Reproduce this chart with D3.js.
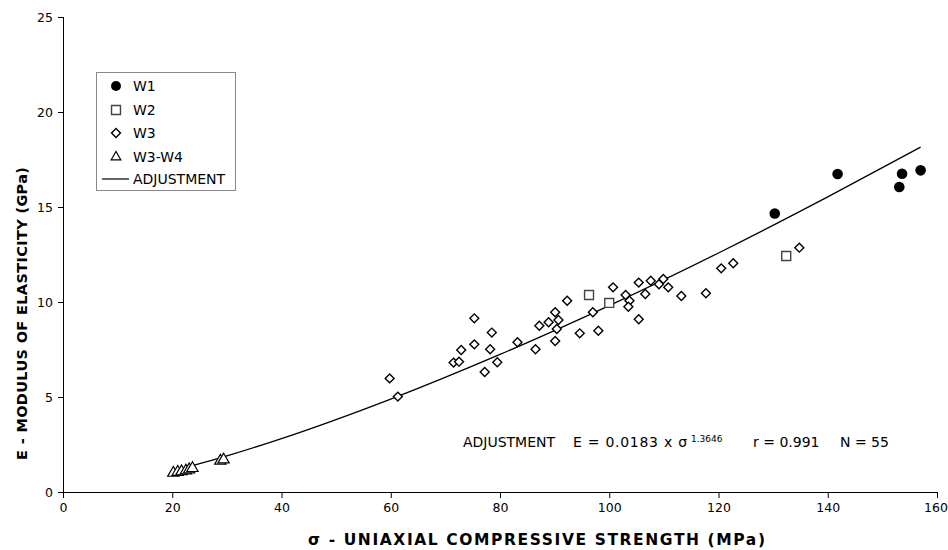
<!DOCTYPE html>
<html>
<head>
<meta charset="utf-8">
<script src="https://cdn.jsdelivr.net/npm/d3@7"></script>
<style>
	body { margin: 0; background: #fff; }
	text { font-family: "DejaVu Sans", Verdana, sans-serif; fill: #000; }
</style>
</head>
<body>
<div id="chart"><svg width="948" height="550"></svg></div>
<script>
// data (sigma in MPa, E in GPa)
var w1_sigma = [130.3, 141.8, 153.1, 153.6, 157.0]
var w1_e     = [14.66, 16.74, 16.05, 16.75, 16.93]

var w2_sigma = [96.3, 100.0, 132.4]
var w2_e     = [10.37, 9.95, 12.42]

var w3_sigma = [59.8, 61.3, 71.5, 72.5, 72.9, 75.3, 75.3, 77.2, 78.2, 78.5,
				79.5, 83.2, 86.5, 87.2, 88.9, 90.1, 90.7, 90.4, 90.1, 92.3,
				94.6, 97.0, 98.0, 100.7, 103.0, 103.7, 103.5, 105.4, 105.4, 106.6,
				107.6, 109.1, 109.9, 110.8, 113.2, 117.7, 120.5, 122.7, 134.8]
var w3_e     = [5.98, 5.02, 6.81, 6.86, 7.47, 7.77, 9.14, 6.32, 7.51, 8.39,
				6.83, 7.88, 7.51, 8.75, 8.93, 9.46, 9.05, 8.58, 7.95, 10.07,
				8.35, 9.46, 8.49, 10.77, 10.37, 10.07, 9.75, 11.02, 9.09, 10.42,
				11.12, 10.93, 11.21, 10.77, 10.32, 10.46, 11.77, 12.04, 12.86]

var w34_sigma = [20.2, 21.0, 21.7, 22.5, 23.1, 23.7, 28.8, 29.4]
var w34_e     = [1.00, 1.05, 1.08, 1.12, 1.18, 1.25, 1.64, 1.70]

// adjustment curve, points
var fit_sigma = [20, 30, 40, 60, 80, 100, 120, 140, 157]
var fit_e     = [1.09, 1.90, 2.81, 4.89, 7.24, 9.81, 12.58, 15.53, 18.15]

var xTicks = [0, 20, 40, 60, 80, 100, 120, 140, 160]
var yTicks = [0, 5, 10, 15, 20, 25]

var legendNames = ["W1", "W2", "W3", "W3-W4", "ADJUSTMENT"]

function zip(xs, ys) {
	return xs.map(function(v, i) { return {x: v, y: ys[i]} })
}

var svg = d3.select("#chart").select("svg")

var x = d3.scaleLinear().domain([0, 160]).range([63, 937])
var y = d3.scaleLinear().domain([0, 25]).range([492, 17])

// axes
var xAxis = svg.append("g")
	.attr("transform", "translate(0,492)")
	.call(d3.axisBottom(x).tickValues(xTicks).tickSize(6).tickPadding(5))
var yAxis = svg.append("g")
	.attr("transform", "translate(63,0)")
	.call(d3.axisLeft(y).tickValues(yTicks).tickSize(5).tickPadding(5))

svg.selectAll(".domain").attr("stroke", "#000").attr("stroke-width", 1)
xAxis.select(".domain").attr("d", "M63.5,0.5H937")
yAxis.select(".domain").attr("d", "M0.5,17V492.5")
svg.selectAll(".tick line").attr("stroke", "#000")
svg.selectAll(".tick text")
	.style("font-family", "'DejaVu Sans', Verdana, sans-serif")
	.style("font-size", "12.5px")
	.attr("fill", "#000")
// keep the last x label inside the page
xAxis.selectAll(".tick text").filter(function(d) { return d === 160 }).attr("dx", "-1.5")

// axis titles
svg.append("text")
	.attr("x", 308)
	.attr("y", 545)
	.attr("textLength", 457)
	.attr("lengthAdjust", "spacing")
	.style("font-size", "15.5px")
	.style("font-weight", "bold")
	.text("σ - UNIAXIAL COMPRESSIVE STRENGTH  (MPa)")

svg.append("text")
	.attr("text-anchor", "start")
	.attr("textLength", 293)
	.attr("lengthAdjust", "spacing")
	.style("font-size", "14.5px")
	.style("font-weight", "bold")
	.attr("transform", "translate(27,460)rotate(-90)")
	.text("E - MODULUS OF ELASTICITY (GPa)")

// adjustment line
var line = d3.line()
	.x(function(d) { return x(d.x) })
	.y(function(d) { return y(d.y) })
	.curve(d3.curveMonotoneX)

svg.append("path")
	.datum(zip(fit_sigma, fit_e))
	.attr("d", line)
	.attr("fill", "none")
	.attr("stroke", "#000")
	.attr("stroke-width", 1.3)

// markers
var diamond = d3.symbol().type(d3.symbolSquare).size(40)
var square = d3.symbol().type(d3.symbolSquare).size(80)
var triangle = d3.symbol().type(d3.symbolTriangle).size(55)

svg.selectAll("w3_points")
	.data(zip(w3_sigma, w3_e))
	.enter()
	.append("path")
	.attr("d", diamond)
	.attr("transform", function(d) { return "translate(" + x(d.x) + "," + y(d.y) + ")rotate(45)" })
	.attr("fill", "#fff")
	.attr("stroke", "#000")
	.attr("stroke-width", 1.4)

svg.selectAll("w34_points")
	.data(zip(w34_sigma, w34_e))
	.enter()
	.append("path")
	.attr("d", triangle)
	.attr("transform", function(d) { return "translate(" + x(d.x) + "," + y(d.y) + ")" })
	.attr("fill", "#fff")
	.attr("stroke", "#000")
	.attr("stroke-width", 1.2)

svg.selectAll("w2_points")
	.data(zip(w2_sigma, w2_e))
	.enter()
	.append("path")
	.attr("d", square)
	.attr("transform", function(d) { return "translate(" + x(d.x) + "," + y(d.y) + ")" })
	.attr("fill", "#fff")
	.attr("stroke", "#444")
	.attr("stroke-width", 1.4)

svg.selectAll("w1_points")
	.data(zip(w1_sigma, w1_e))
	.enter()
	.append("circle")
	.attr("cx", function(d) { return x(d.x) })
	.attr("cy", function(d) { return y(d.y) })
	.attr("r", 5.3)
	.attr("fill", "#000")

// equation label
var eq = svg.append("text")
	.attr("y", 447)
	.style("font-size", "14px")
eq.append("tspan").attr("x", 463).attr("textLength", 92).text("ADJUSTMENT")
eq.append("tspan").attr("x", 573).attr("textLength", 114).text("E = 0.0183 x σ")
eq.append("tspan").attr("x", 691).attr("dy", -5).style("font-size", "9px").text("1.3646")
eq.append("tspan").attr("x", 753).attr("dy", 5).text("r = 0.991")
eq.append("tspan").attr("x", 840).text("N = 55")

// legend
var legend = svg.append("g")
legend.append("rect")
	.attr("x", 96.5)
	.attr("y", 72.5)
	.attr("width", 139)
	.attr("height", 118)
	.attr("fill", "#fff")
	.attr("stroke", "#888")

var legendY = [86, 110, 133, 157, 179]
legend.selectAll("legend_text")
	.data(legendNames)
	.enter()
	.append("text")
	.attr("x", 133)
	.attr("y", function(d, i) { return legendY[i] })
	.attr("dominant-baseline", "central")
	.style("font-size", "14px")
	.text(function(d) { return d })

legend.append("circle").attr("cx", 116).attr("cy", legendY[0]).attr("r", 5).attr("fill", "#000")
legend.append("path").attr("d", square)
	.attr("transform", "translate(116," + legendY[1] + ")")
	.attr("fill", "#fff").attr("stroke", "#444").attr("stroke-width", 1.4)
legend.append("path").attr("d", diamond)
	.attr("transform", "translate(116," + legendY[2] + ")rotate(45)")
	.attr("fill", "#fff").attr("stroke", "#000").attr("stroke-width", 1.4)
legend.append("path").attr("d", d3.symbol().type(d3.symbolTriangle).size(40))
	.attr("transform", "translate(116," + legendY[3] + ")")
	.attr("fill", "#fff").attr("stroke", "#000").attr("stroke-width", 1.2)
legend.append("line")
	.attr("x1", 102).attr("x2", 129)
	.attr("y1", legendY[4]).attr("y2", legendY[4])
	.attr("stroke", "#000").attr("stroke-width", 1.2)
</script>
</body>
</html>
